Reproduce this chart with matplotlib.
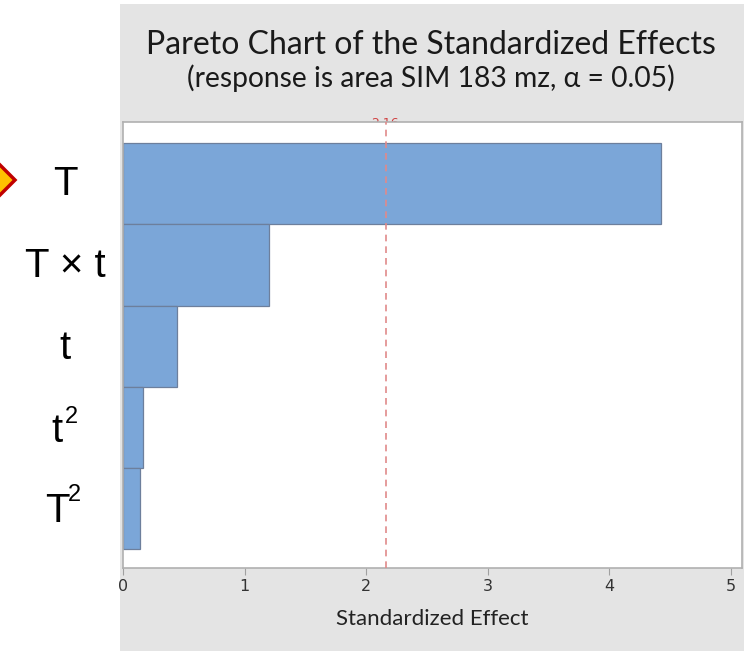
import numpy as np
import matplotlib
matplotlib.use("Agg")
from matplotlib import pyplot as plt
from matplotlib.patches import Rectangle, Polygon
from matplotlib.transforms import blended_transform_factory

# effects, top to bottom
terms = ["T", "T × t", "t", "t", "T"]
term_sup = ["", "", "", "2", "2"]
effects = [4.42, 1.20, 0.44, 0.165, 0.14]
x_ticks = [0, 1, 2, 3, 4, 5]
t_crit = 2.16

W, H = 756, 653
fig = plt.figure(figsize=(W / 100, H / 100), dpi=100)
fig.patch.set_facecolor("white")

# grey minitab panel
panel = Rectangle((120 / W, 1 - 651 / H), (744 - 120) / W, (651 - 4) / H,
                  transform=fig.transFigure, facecolor="#e4e4e4",
                  edgecolor="none", zorder=-3)
fig.patches.append(panel)

ax = fig.add_axes([123 / W, 1 - 568 / H, (742 - 123) / W, (568 - 122) / H])
ax.set_facecolor("white")

y = np.arange(len(terms))
ax.barh(y, effects, height=1.0, color="#7ba6d8", edgecolor="#6d7f9c",
        linewidth=0.9, zorder=2)
ax.axvline(t_crit, color="#e08a8a", ls=(0, (4, 3)), lw=1.2, zorder=3)

ax.set_xlim(0, 5.09)
ax.set_ylim(4.73, -0.76)
ax.set_xticks(x_ticks)
ax.set_xticklabels([str(v) for v in x_ticks], fontsize=11.5, color="#333333",
                   fontfamily="Liberation Sans Narrow")
ax.tick_params(axis="x", direction="out", length=5, color="#a0a0a0", pad=3)
ax.set_yticks(y)
ax.set_yticklabels([])
ax.tick_params(axis="y", direction="in", length=4, color="#a0a0a0")
for s in ax.spines.values():
    s.set_color("#b0b0b0")
    s.set_linewidth(1.2)

ax.set_xlabel("Standardized Effect", fontsize=16, color="#222222",
              fontfamily="Lato", labelpad=10.5)

# big term labels on the left (superscripts drawn separately)
tr = blended_transform_factory(fig.transFigure, ax.transData)
base_dx = [0, 0, 0, -8, -8]
base_dy = [-11, -12, -13, -15, -13]
sup_dx = [0, 0, 0, 0, 3]
sup_dy = [0, 0, 0, 4, 8]
for i, yi in enumerate(y):
    ax.annotate(terms[i], xy=(65 / W, yi), xycoords=tr,
                xytext=(base_dx[i], base_dy[i]), textcoords="offset pixels",
                ha="center", va="baseline", fontsize=29,
                fontfamily="Liberation Sans", color="black",
                annotation_clip=False)
    if term_sup[i]:
        ax.annotate(term_sup[i], xy=(65 / W, yi), xycoords=tr,
                    xytext=(sup_dx[i], sup_dy[i]), textcoords="offset pixels",
                    ha="left", va="baseline", fontsize=17,
                    fontfamily="Liberation Sans", color="black",
                    annotation_clip=False)

# titles
fig.text(431 / W, 1 - 45 / H, "Pareto Chart of the Standardized Effects",
         ha="center", va="center", fontsize=23, fontfamily="Lato",
         color="#1a1a1a")
fig.text(431 / W, 1 - 78 / H, "(response is area SIM 183 mz, α = 0.05)",
         ha="center", va="center", fontsize=20.3, fontfamily="Lato",
         color="#1a1a1a")

# clipped reference label, mostly hidden behind the plot area
fig.text(385 / W, 1 - 130 / H, "2.16", ha="center", va="bottom",
         fontsize=9, color="#d04040", zorder=-1)

# highlight marker at the left edge
cx, cy, r = -3, 180, 18
diamond = Polygon([((cx - r) / W, 1 - cy / H), (cx / W, 1 - (cy - r) / H),
                   ((cx + r) / W, 1 - cy / H), (cx / W, 1 - (cy + r) / H)],
                  closed=True, transform=fig.transFigure, facecolor="#ffc000",
                  edgecolor="#c00000", linewidth=2.5, zorder=5)
fig.patches.append(diamond)

fig.savefig("out.png", dpi=100)
